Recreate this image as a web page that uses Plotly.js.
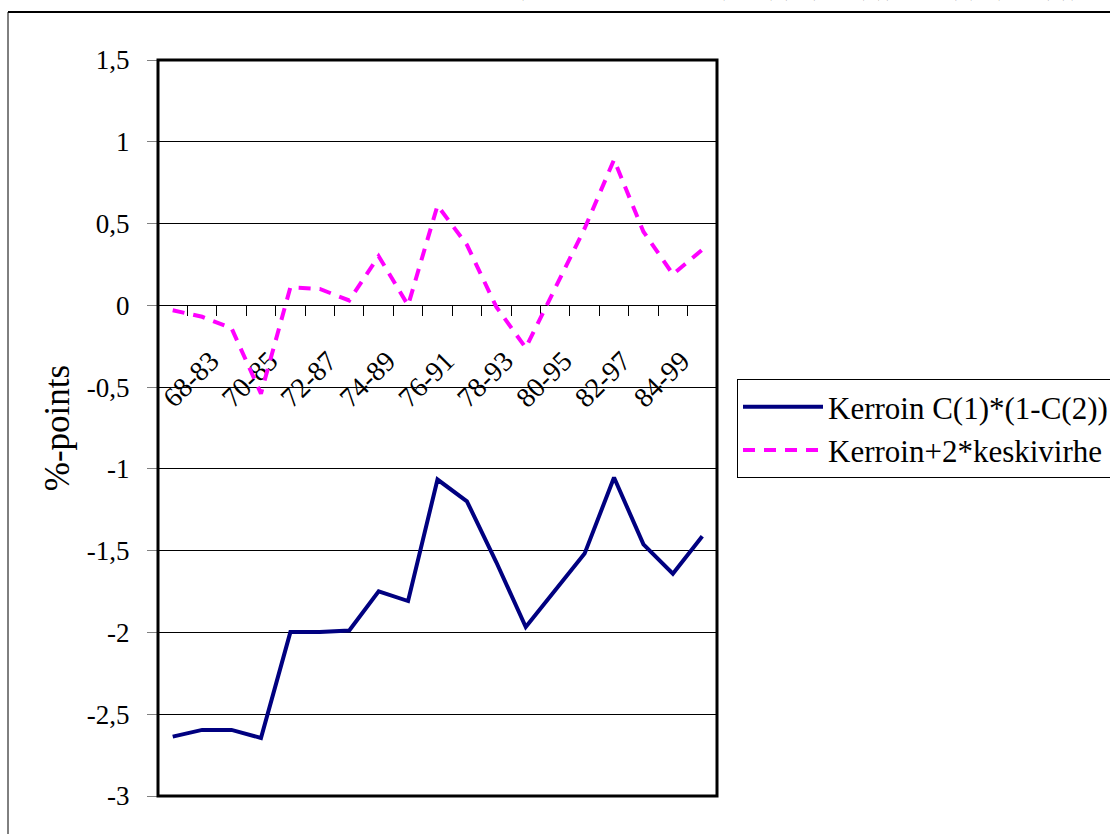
<!DOCTYPE html>
<html><head><meta charset="utf-8">
<script src="https://cdn.plot.ly/plotly-3.0.1.min.js"></script>
<style>
html,body{margin:0;padding:0;background:#fff}
#chart{width:1110px;height:834px}
</style>
</head><body><div id="chart"></div>
<script>
const categories = ["68-83","69-84","70-85","71-86","72-87","73-88","74-89","75-90","76-91","77-92","78-93","79-94","80-95","81-96","82-97","83-98","84-99","85-00","86-01"];
const kerroin = [-2.637,-2.596,-2.596,-2.645,-1.998,-1.998,-1.988,-1.749,-1.808,-1.065,-1.198,-1.571,-1.967,-1.747,-1.518,-1.053,-1.461,-1.641,-1.412];
const kerroinPlus2se = [-0.03,-0.07,-0.14,-0.54,0.11,0.10,0.03,0.30,0.00,0.61,0.37,-0.01,-0.26,0.11,0.47,0.89,0.45,0.19,0.34];
const seriesNames = ["Kerroin C(1)*(1-C(2))","Kerroin+2*keskivirhe"];
const xLabelCategories = ["68-83","70-85","72-87","74-89","76-91","78-93","80-95","82-97","84-99"];
const yTickVals = [1.5,1,0.5,0,-0.5,-1,-1.5,-2,-2.5,-3];
const yTickLabels = ["1,5","1","0,5","0","-0,5","-1","-1,5","-2","-2,5","-3"];
const yTitle = "%-points";
const chartTitle = "Kuvio 3. Pitkän aikavälin kerroin (prosenttiyksikköä), C(1)*(1-C(2)) ja C(1)*(1-C(2))+2*keskivirhe";

const xIdx = categories.map((c,i)=>i);
const xTickVals = xLabelCategories.map(c=>categories.indexOf(c));

const FONT = 'Liberation Serif';
const W=1110,H=834,L=158,R=393,T=60,B=38;
const pw=W-L-R, ph=H-T-B;
const px=x=>(x-L)/pw, py=y=>(H-B-y)/ph;

const traces = [
  {x:xIdx, y:kerroin, type:'scatter', mode:'lines', name:seriesNames[0],
   line:{color:'#000080', width:4}, hoverinfo:'skip'},
  {x:xIdx, y:kerroinPlus2se, type:'scatter', mode:'lines', name:seriesNames[1],
   line:{color:'#FF00FF', width:4, dash:'12px,9px'}, hoverinfo:'skip'}
];

const layout = {
  width:W, height:H,
  margin:{l:L,r:R,t:T,b:B,pad:0,autoexpand:false},
  paper_bgcolor:'#fff', plot_bgcolor:'#fff',
  font:{family:FONT, color:'#000', size:27},
  showlegend:true,
  legend:{x:px(737), y:py(379), xanchor:'left', yanchor:'top', bgcolor:'#fff',
          bordercolor:'#000', borderwidth:1, font:{size:31, family:FONT, color:'#000'}, itemwidth:80,
          traceorder:'normal'},
  xaxis:{type:'linear', range:[-0.5,18.5], anchor:'free', position:3/4.5,
         showline:true, linecolor:'#000', linewidth:1, showgrid:false, zeroline:false,
         tickmode:'array', tickvals:xTickVals, ticktext:xLabelCategories, ticks:'',
         tickangle:-45, tickfont:{size:28, family:FONT, color:'#000'}, ticklabelshift:38, ticklabelstandoff:27,
         layer:'below traces',
         minor:{tickmode:'linear', tick0:0.5, dtick:1, ticks:'outside', ticklen:10,
                tickcolor:'#000', tickwidth:1, showgrid:false},
         fixedrange:true},
  yaxis:{range:[-3,1.5], tickmode:'array', tickvals:yTickVals, ticktext:yTickLabels,
         ticks:'outside', ticklen:10, tickcolor:'#808080', tickwidth:1,
         showgrid:true, gridcolor:'#000', gridwidth:1, zeroline:false, showline:false,
         ticklabelstandoff:12, tickfont:{size:27, family:FONT, color:'#000'},
         title:{text:yTitle, font:{size:35, family:FONT, color:'#000'}, standoff:6}, layer:'below traces', fixedrange:true},
  shapes:[
    {type:'rect', xref:'paper', yref:'paper', x0:0, x1:1, y0:0, y1:1, line:{color:'#000', width:3}, layer:'above'},
    {type:'line', xref:'paper', yref:'paper', x0:px(8), x1:px(1115), y0:py(12), y1:py(12), line:{color:'#000', width:2}},
    {type:'line', xref:'paper', yref:'paper', x0:px(8), x1:px(8), y0:py(12), y1:py(840), line:{color:'#000', width:1}}
  ],
  annotations:[
    {text:'<b>'+chartTitle+'</b>', xref:'paper', yref:'paper', x:px(135), y:py(2),
     xanchor:'left', yanchor:'bottom', showarrow:false, borderpad:0,
     font:{size:26, family:FONT, color:'#000'}}
  ]
};

Plotly.newPlot('chart', traces, layout, {staticPlot:true, displayModeBar:false});
</script>
</body></html>
